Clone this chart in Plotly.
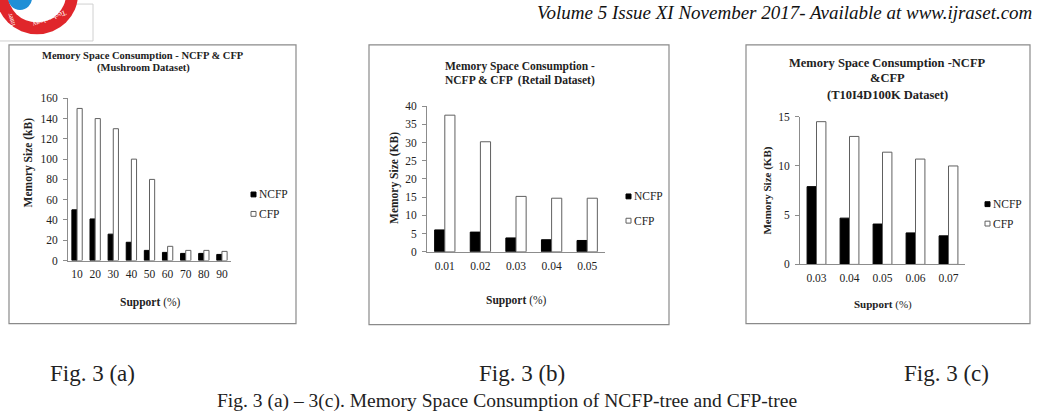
import plotly.graph_objects as go

W, H = 1038, 420

# ---------------- data ----------------
support_a = ["10", "20", "30", "40", "50", "60", "70", "80", "90"]
ncfp_a = [50, 41, 26, 18, 10, 8, 7, 7, 6]
cfp_a = [150, 140, 130, 100, 80, 14, 10, 10, 9]

support_b = ["0.01", "0.02", "0.03", "0.04", "0.05"]
ncfp_b = [6.0, 5.4, 3.8, 3.3, 3.1]
cfp_b = [37.5, 30.2, 15.2, 14.7, 14.7]

support_c = ["0.03", "0.04", "0.05", "0.06", "0.07"]
ncfp_c = [7.9, 4.7, 4.1, 3.2, 2.9]
cfp_c = [14.5, 13.0, 11.4, 10.7, 10.0]

series_names = ["NCFP", "CFP"]

# ---------------- helpers ----------------
def px(x):
    return x / W

def py(y):
    return 1 - y / H

SERIF = "Liberation Serif, Times New Roman, serif"
AXC = "#8c8c8c"

fig = go.Figure()

panels = [
    dict(x=support_a, n=ncfp_a, c=cfp_a, xd=(68, 231), yd=(262, 95), rng=[0, 160], dt=20, sfx=""),
    dict(x=support_b, n=ncfp_b, c=cfp_b, xd=(427, 605), yd=(253, 103), rng=[0, 40], dt=5, sfx="2"),
    dict(x=support_c, n=ncfp_c, c=cfp_c, xd=(800, 965), yd=(266, 114), rng=[0, 15], dt=5, sfx="3"),
]

for p in panels:
    xa = "x" + p["sfx"]
    ya = "y" + p["sfx"]
    fig.add_trace(go.Bar(x=p["x"], y=p["n"], name=series_names[0], xaxis=xa, yaxis=ya,
                         marker=dict(color="black", line=dict(color="black", width=1)),
                         showlegend=False))
    fig.add_trace(go.Bar(x=p["x"], y=p["c"], name=series_names[1], xaxis=xa, yaxis=ya,
                         marker=dict(color="white", line=dict(color="#606060", width=1)),
                         showlegend=False))
    fig.layout["xaxis" + p["sfx"]] = dict(
        domain=[px(p["xd"][0]), px(p["xd"][1])], anchor=ya, type="category",
        showline=True, linecolor=AXC, linewidth=1, ticks="", showgrid=False,
        zeroline=False, ticklabelstandoff=3,
        tickfont=dict(family=SERIF, size=11.5, color="#222"), fixedrange=True)
    fig.layout["yaxis" + p["sfx"]] = dict(
        domain=[py(p["yd"][0]), py(p["yd"][1])], anchor=xa, range=p["rng"], dtick=p["dt"],
        showline=True, linecolor=AXC, linewidth=1, ticks="outside", ticklen=4, tickcolor=AXC,
        showgrid=False, zeroline=False, ticklabelstandoff=3,
        tickfont=dict(family=SERIF, size=11.5, color="#222"), fixedrange=True)

annotations = []
shapes = []

def ann(text, x, y, size, bold=False, angle=0, xanchor="center", color="#222", italic=False, family=SERIF):
    t = "<b>%s</b>" % text if bold else text
    if italic:
        t = "<i>%s</i>" % t
    annotations.append(dict(text=t, x=px(x), y=py(y), xref="paper", yref="paper",
                            showarrow=False, xanchor=xanchor, yanchor="middle",
                            textangle=angle, font=dict(family=family, size=size, color=color)))

# chart frames
for (x0, y0, x1, y1) in [(9, 40, 296, 327), (369, 40, 669, 328), (746, 40, 1030, 327)]:
    shapes.append(dict(type="rect", xref="paper", yref="paper", x0=px(x0), x1=px(x1),
                       y0=py(y1), y1=py(y0), line=dict(color="#8a8a8a", width=1.2)))

# titles
ann("Memory Space Consumption - NCFP &amp; CFP", 143, 51, 10.5, bold=True)
ann("(Mushroom Dataset)", 143, 64, 10.5, bold=True)
ann("Memory Space Consumption -", 520, 62, 11.5, bold=True)
ann("NCFP &amp; CFP  (Retail Dataset)", 520, 77, 11.5, bold=True)
ann("Memory Space Consumption -NCFP", 887, 59, 12.5, bold=True)
ann("&amp;CFP", 887, 74, 12.5, bold=True)
ann("(T10I4D100K Dataset)", 887, 92, 12.5, bold=True)

# axis titles
ann("Memory Size (kB)", 28, 161, 11.5, bold=True, angle=-90)
ann("<b>Support</b> (%)", 150, 305, 11.5)
ann("Memory Size (KB)", 395, 177, 11.5, bold=True, angle=-90)
ann("<b>Support</b> (%)", 516, 303, 11.5)
ann("Memory Size (KB)", 768, 190, 11, bold=True, angle=-90)
ann("<b>Support</b> (%)", 883, 307, 11)

# legends
legs = [((251, 194), (251, 214)), ((626, 196), (626, 221)), ((985, 204), (985, 224))]
for (n_pos, c_pos) in legs:
    for name, (lx, ly), fill, lc in [(series_names[0], n_pos, "black", "black"),
                                     (series_names[1], c_pos, "white", "#606060")]:
        shapes.append(dict(type="rect", xref="paper", yref="paper", x0=px(lx), x1=px(lx + 5),
                           y0=py(ly + 2.5), y1=py(ly - 2.5), fillcolor=fill,
                           line=dict(color=lc, width=1)))
        ann(name, lx + 5.5, ly, 11.5, xanchor="left")

# header text
ann("Volume 5 Issue XI November 2017- Available at www.ijraset.com", 1034, 6.5, 19,
    italic=True, xanchor="right", color="#111")

# logo (partial)
shapes.append(dict(type="rect", xref="paper", yref="paper", x0=px(-2), x1=px(93),
                   y0=py(36), y1=py(-2), line=dict(color="#d0d0d0", width=1), fillcolor="white",
                   layer="below"))
shapes.append(dict(type="circle", xref="paper", yref="paper", x0=px(37 - 41), x1=px(37 + 41),
                   y0=py(-12 + 41), y1=py(-12 - 41), fillcolor="#e0262b", line=dict(width=0)))
shapes.append(dict(type="circle", xref="paper", yref="paper", x0=px(37 - 29), x1=px(37 + 29),
                   y0=py(-12 + 29), y1=py(-12 - 29), fillcolor="white", line=dict(width=0)))
shapes.append(dict(type="circle", xref="paper", yref="paper", x0=px(8), x1=px(32),
                   y0=py(4), y1=py(-20), fillcolor="#1f8fd6", line=dict(width=0)))
ann("Technology", 49, 13, 7.5, angle=159, color="white")
ann("Inter", 11, 14, 7, angle=-107, color="white")

# captions
CAP = "Liberation Serif, serif"
ann("Fig. 3 (a)", 92, 378, 23, family=CAP)
ann("Fig. 3 (b)", 522, 378, 23, family=CAP)
ann("Fig. 3 (c)", 946, 378, 23, family=CAP)
ann("Fig. 3 (a) – 3(c). Memory Space Consumption of NCFP-tree and CFP-tree", 507, 407, 19.5, family=CAP)

fig.update_layout(
    width=W, height=H, margin=dict(l=0, r=0, t=0, b=0),
    paper_bgcolor="white", plot_bgcolor="white",
    barmode="group", bargap=0.43, bargroupgap=0,
    showlegend=False, annotations=annotations, shapes=shapes,
)

fig.write_html("out.html")
